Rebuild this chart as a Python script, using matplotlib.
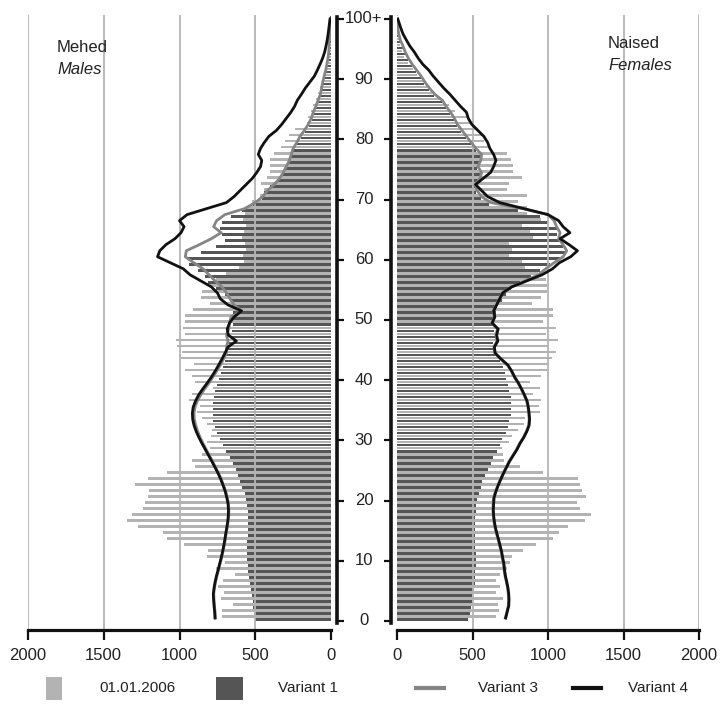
import numpy as np
import matplotlib
matplotlib.use('Agg')
import matplotlib.pyplot as plt
from matplotlib.patches import Rectangle
from matplotlib.lines import Line2D

plt.rcParams['font.family'] = ['Liberation Sans', 'DejaVu Sans']

# ---------------- data ----------------
ages = np.arange(0, 101)
age_ticks = [0, 10, 20, 30, 40, 50, 60, 70, 80, 90, 100]
age_labels = ['0', '10', '20', '30', '40', '50', '60', '70', '80', '90', '100+']
x_ticks = [0, 500, 1000, 1500, 2000]
x_labels = ['0', '500', '1000', '1500', '2000']

male_2006 = [720, 720, 647, 726, 706, 745, 712, 634, 760, 700,
             818, 810, 970, 1082, 1108, 1273, 1345, 1312, 1240, 1225,
             1207, 1200, 1292, 1208, 1081, 896, 915, 850, 800, 816,
             792, 788, 816, 854, 887, 865, 935, 915, 777, 897,
             915, 964, 904, 988, 981, 1014, 1023, 964, 975, 964,
             964, 909, 800, 860, 854, 800, 760, 690, 610, 575,
             580, 560, 570, 585, 575, 560, 580, 570, 560, 520,
             470, 440, 465, 420, 400, 405, 400, 376, 330, 305,
             280, 240, 160, 150, 130, 118, 100, 85, 70, 57,
             45, 36, 28, 20, 14, 10, 7, 5, 3, 2, 3]

male_v1 = [500, 505, 512, 518, 524, 530, 535, 540, 545, 550,
           552, 555, 553, 552, 550, 547, 546, 546, 548, 552,
           558, 570, 585, 598, 612, 628, 645, 668, 690, 712,
           732, 752, 765, 777, 780, 780, 778, 774, 766, 750,
           738, 725, 713, 702, 695, 690, 678, 667, 655, 645,
           648, 650, 652, 656, 700, 760, 810, 832, 876, 940,
           950, 860, 760, 700, 720, 730, 722, 660, 590, 513,
           457, 440, 400, 350, 320, 295, 275, 262, 250, 222,
           200, 172, 148, 128, 115, 98, 83, 70, 60, 52,
           44, 34, 26, 19, 14, 11, 9, 7, 6, 5, 5]

male_v3 = [763, 765, 769, 772, 774, 769, 762, 753, 742, 732,
           722, 713, 705, 698, 692, 685, 679, 675, 674, 677,
           685, 695, 709, 724, 742, 762, 782, 803, 824, 845,
           864, 880, 893, 902, 904, 898, 883, 862, 835, 806,
           780, 755, 730, 710, 690, 690, 680, 690, 675, 670,
           660, 590, 640, 665, 690, 720, 765, 805, 845, 905,
           962, 955, 870, 790, 725, 775, 755, 700, 570, 500,
           450, 420, 375, 340, 315, 295, 275, 262, 250, 225,
           205, 175, 150, 130, 117, 100, 85, 70, 62, 55,
           45, 35, 27, 20, 15, 12, 10, 8, 7, 6, 5]

male_v4 = [766, 768, 772, 775, 777, 772, 765, 756, 745, 735,
           725, 716, 708, 701, 695, 688, 682, 678, 677, 680,
           688, 698, 712, 727, 745, 765, 786, 808, 830, 852,
           872, 890, 904, 913, 915, 910, 895, 875, 848, 818,
           790, 765, 742, 720, 700, 680, 625, 678, 685, 670,
           640, 590, 680, 730, 750, 790, 860, 930, 975, 1060,
           1145, 1130, 1090, 1030, 990, 970, 1000, 950, 820, 690,
           640, 600, 560, 520, 490, 465, 457, 480, 465, 440,
           410, 360, 325, 295, 265, 240, 222, 195, 170, 140,
           110, 90, 72, 55, 42, 33, 25, 19, 14, 9, 6]

female_2006 = [656, 677, 671, 704, 656, 682, 656, 682, 726, 750,
               763, 832, 918, 1035, 1073, 1130, 1245, 1283, 1212, 1190,
               1250, 1223, 1210, 1197, 965, 815, 708, 704, 693, 742,
               760, 800, 841, 848, 947, 938, 951, 898, 947, 881,
               951, 996, 996, 1024, 1053, 1000, 1064, 990, 1051, 965,
               1035, 1035, 892, 951, 991, 991, 990, 935, 848, 826,
               740, 764, 742, 903, 880, 826, 953, 864, 859, 800,
               864, 726, 742, 826, 770, 766, 753, 731, 605, 576,
               560, 539, 502, 472, 384, 346, 296, 230, 201, 181,
               130, 108, 75, 46, 31, 20, 13, 8, 5, 3, 4]

female_v1 = [472, 483, 490, 494, 499, 508, 515, 516, 517, 521,
             521, 521, 519, 517, 517, 519, 517, 519, 521, 524,
             530, 543, 554, 563, 583, 603, 623, 636, 662, 680,
             698, 720, 735, 742, 753, 756, 758, 755, 745, 735,
             722, 712, 700, 680, 660, 643, 638, 650, 645, 638,
             640, 655, 662, 693, 720, 757, 815, 890, 950, 1013,
             1079, 1110, 1101, 1079, 1057, 1057, 1002, 947, 800, 610,
             555, 525, 515, 545, 555, 530, 550, 555, 520, 487,
             455, 425, 398, 378, 352, 322, 296, 248, 212, 182,
             157, 128, 98, 73, 53, 38, 21, 11, 5, 3, 2]

female_v3 = [717, 727, 737, 739, 737, 732, 724, 715, 709, 705,
             697, 690, 680, 670, 659, 649, 642, 637, 635, 637,
             640, 652, 667, 684, 702, 722, 742, 767, 792, 812,
             837, 857, 872, 875, 872, 867, 859, 842, 823, 802,
             777, 757, 732, 687, 647, 642, 662, 655, 665, 628,
             645, 638, 658, 678, 698, 760, 850, 935, 985, 1040,
             1100, 1124, 1100, 1070, 1080, 1057, 1040, 1000, 830, 620,
             560, 530, 517, 550, 560, 535, 555, 560, 523, 490,
             460, 430, 400, 380, 355, 325, 300, 250, 215, 185,
             160, 130, 100, 75, 55, 40, 22, 12, 5, 3, 2]

female_v4 = [720, 730, 740, 742, 740, 735, 727, 718, 712, 708,
             700, 693, 683, 673, 662, 652, 645, 640, 638, 640,
             643, 655, 670, 687, 705, 725, 745, 770, 795, 815,
             840, 860, 875, 878, 875, 870, 862, 845, 826, 805,
             780, 760, 735, 690, 650, 645, 668, 660, 670, 630,
             648, 640, 660, 680, 700, 760, 860, 960, 1030, 1075,
             1150, 1195, 1140, 1080, 1145, 1100, 1070, 1000, 840, 680,
             600, 560, 520, 570, 620, 640, 655, 640, 615, 600,
             575, 535, 495, 472, 460, 420, 385, 350, 310, 275,
             240, 210, 170, 140, 115, 85, 62, 40, 25, 12, 5]

# ---------------- styling ----------------
LIGHT = '#b3b3b3'
DARK = '#555555'
GRAY = '#858585'
BLACK = '#111111'
GRID = '#b4b4b4'
TEXT = '#222222'

W, H = 723, 711
fig = plt.figure(figsize=(W / 100, H / 100), dpi=100)

def fx(px):
    return px / W

def fy(py):
    return 1 - py / H

Y_BOT, Y_TOP = 630, 15
YMIN, YMAX = -1.5, 100.66
axh = (Y_BOT - Y_TOP) / H

axL = fig.add_axes([fx(28), fy(Y_BOT), fx(331 - 28), axh])
axR = fig.add_axes([fx(397), fy(Y_BOT), fx(699 - 397), axh])

line_y = np.minimum(ages + 0.5, 100)

for ax, d06, v1, v3, v4, xl in [
        (axL, male_2006, male_v1, male_v3, male_v4, (2000, 0)),
        (axR, female_2006, female_v1, female_v3, female_v4, (0, 2000))]:
    ax.set_xlim(*xl)
    ax.set_ylim(YMIN, YMAX)
    for t in x_ticks[1:]:
        ax.axvline(t, color=GRID, lw=1.3, zorder=2.5)
    ax.barh(ages + 0.7, d06, height=0.43, color=LIGHT, lw=0, zorder=2)
    ax.barh(ages + 0.2, v1, height=0.43, color=DARK, lw=0, zorder=2)
    ax.plot(v3, line_y, color=GRAY, lw=2.0, zorder=3, solid_joinstyle='round')
    ax.plot(v4, line_y, color=BLACK, lw=2.0, zorder=4, solid_joinstyle='round')
    for s in ['left', 'right', 'top']:
        ax.spines[s].set_visible(False)
    ax.spines['bottom'].set_linewidth(2.3)
    ax.spines['bottom'].set_color(BLACK)
    ax.set_yticks([])
    ax.set_xticks(x_ticks)
    ax.set_xticklabels(x_labels)
    ax.tick_params(axis='x', direction='out', length=7, width=1.6,
                   color=BLACK, labelsize=12, pad=6, labelcolor=TEXT)
    ax.set_facecolor('none')

# center age axis
axC = fig.add_axes([fx(337), fy(Y_BOT), fx(391 - 337), axh])
axC.set_ylim(YMIN, YMAX)
axC.set_xlim(0, 1)
axC.set_facecolor('none')
for s in ['top', 'bottom']:
    axC.spines[s].set_visible(False)
for s in ['left', 'right']:
    axC.spines[s].set_linewidth(2.6)
    axC.spines[s].set_color(BLACK)
    axC.spines[s].set_bounds(-0.3, 100.3)
axC.set_xticks([])
axC.set_yticks(age_ticks)
axC.tick_params(axis='y', left=True, right=True, direction='in', length=5,
                width=1.6, color=BLACK, labelleft=False, labelright=False)
for t, lab in zip(age_ticks, age_labels):
    axC.text(0.5, t, lab, ha='center', va='center', fontsize=12,
             transform=axC.get_yaxis_transform(), color=TEXT)

# panel titles
fig.text(fx(57), fy(47), 'Mehed', fontsize=12, ha='left', va='center', color=TEXT)
fig.text(fx(57), fy(70), 'Males', fontsize=12, ha='left', va='center',
         style='italic', color=TEXT)
fig.text(fx(608), fy(43), 'Naised', fontsize=12, ha='left', va='center', color=TEXT)
fig.text(fx(608), fy(66), 'Females', fontsize=12, ha='left', va='center',
         style='italic', color=TEXT)

# legend
LY = 688
fig.add_artist(Rectangle((fx(46), fy(700)), fx(16), 23 / H, color=LIGHT,
                         transform=fig.transFigure, lw=0))
fig.text(fx(99), fy(LY), '01.01.2006', fontsize=11, ha='left', va='center', color=TEXT)
fig.add_artist(Rectangle((fx(216), fy(700)), fx(27), 23 / H, color=DARK,
                         transform=fig.transFigure, lw=0))
fig.text(fx(278), fy(LY), 'Variant 1', fontsize=11, ha='left', va='center', color=TEXT)
fig.add_artist(Line2D([fx(416), fx(444)], [fy(LY), fy(LY)], color=GRAY, lw=3,
                      transform=fig.transFigure))
fig.text(fx(478), fy(LY), 'Variant 3', fontsize=11, ha='left', va='center', color=TEXT)
fig.add_artist(Line2D([fx(573), fx(601)], [fy(LY), fy(LY)], color=BLACK, lw=3,
                      transform=fig.transFigure))
fig.text(fx(628), fy(LY), 'Variant 4', fontsize=11, ha='left', va='center', color=TEXT)

fig.savefig('out.png', dpi=100)
